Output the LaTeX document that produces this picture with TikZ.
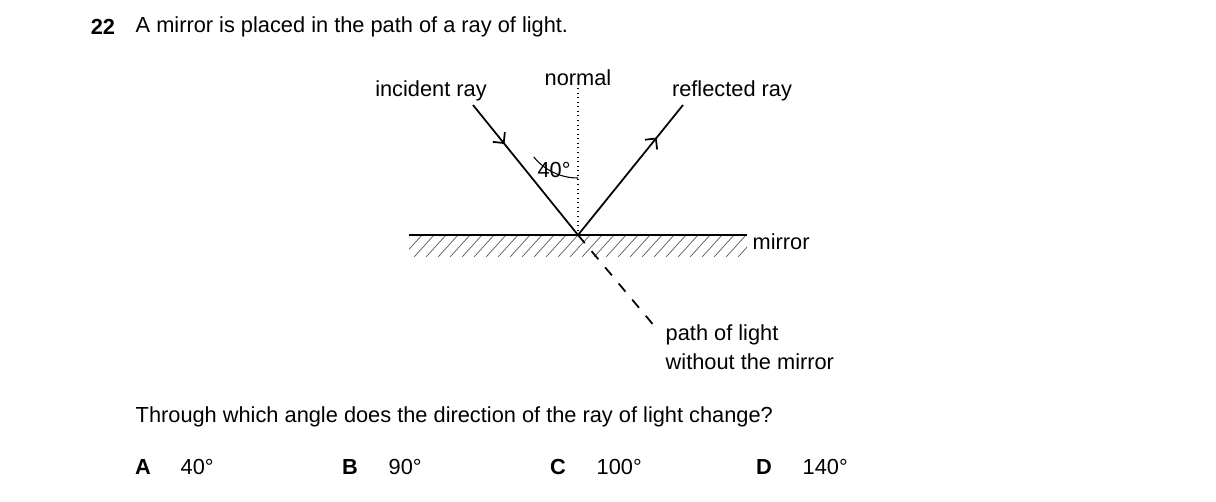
\documentclass[tikz,border=0pt]{standalone}
\usepackage{fontspec}
\setmainfont{Liberation Sans}
\usepackage{tikz}
\usetikzlibrary{arrows.meta}
\usetikzlibrary{decorations.markings}
\usetikzlibrary{patterns}
\tikzset{
  lbl/.style={inner sep=0pt, font=\fontsize{6.2}{7.5}\selectfont},
  ray/.style={line width=0.5pt},
  midarrow/.style={decoration={markings, mark=at position #1 with {\arrow{Straight Barb[length=2.2pt, width=4.4pt]}}}, postaction={decorate}}
}
\begin{document}
\begin{tikzpicture}[x=1cm,y=-1cm]
\useasboundingbox (0,0) rectangle (12.16,5.01);
\coordinate (o) at (5.78,2.35);
\coordinate (in) at (4.73,1.05);
\coordinate (out) at (6.83,1.05);
\coordinate (n) at (5.78,0.88);
\coordinate (ml) at (4.09,2.35);
\coordinate (mr) at (7.47,2.35);
\coordinate (p) at (6.56,3.28);
% hatching under mirror
\begin{scope}
\clip (4.09,2.35) rectangle (7.47,2.56);
\foreach \x in {3.9,4.02,...,7.5}
  \draw[line width=0.2pt, gray!70!black] (\x,2.57) -- (\x+0.2,2.35);
\end{scope}
% mirror, normal and rays
\draw[line width=0.6pt] (ml) -- (mr);
\draw[densely dotted, line width=0.3pt] (n) -- (o);
\draw[ray, midarrow=0.3] (in) -- (o);
\draw[ray, midarrow=0.75] (o) -- (out);
\draw[dashed, line width=0.5pt] (o) -- (p);
\draw[line width=0.3pt] (5.78,1.78) arc[start angle=90, end angle=141, radius=0.57];
% labels
\node[lbl, font=\fontsize{6.2}{7.5}\selectfont\bfseries] (num) at (1.03,0.27) {22};
\node[lbl, anchor=west] (title) at (1.35,0.27) {A mirror is placed in the path of a ray of light.};
\node[lbl] (inc) at (4.31,0.91) {incident ray};
\node[lbl] (nor) at (5.78,0.78) {normal};
\node[lbl] (ref) at (7.32,0.91) {reflected ray};
\node[lbl] (ang) at (5.54,1.70) {40°};
\node[lbl, anchor=west] (mir) at (7.52,2.42) {mirror};
\node[lbl, anchor=west] (pth) at (6.65,3.35) {path of light};
\node[lbl, anchor=west] (wo) at (6.65,3.62) {without the mirror};
\node[lbl, anchor=west] (q) at (1.35,4.17) {Through which angle does the direction of the ray of light change?};
\node[lbl, font=\fontsize{6.2}{7.5}\selectfont\bfseries] (a) at (1.43,4.67) {A};
\node[lbl, anchor=west] (av) at (1.80,4.67) {40°};
\node[lbl, font=\fontsize{6.2}{7.5}\selectfont\bfseries] (b) at (3.50,4.67) {B};
\node[lbl, anchor=west] (bv) at (3.88,4.67) {90°};
\node[lbl, font=\fontsize{6.2}{7.5}\selectfont\bfseries] (c) at (5.58,4.67) {C};
\node[lbl, anchor=west] (cv) at (5.96,4.67) {100°};
\node[lbl, font=\fontsize{6.2}{7.5}\selectfont\bfseries] (d) at (7.64,4.67) {D};
\node[lbl, anchor=west] (dv) at (8.02,4.67) {140°};
\end{tikzpicture}
\end{document}
